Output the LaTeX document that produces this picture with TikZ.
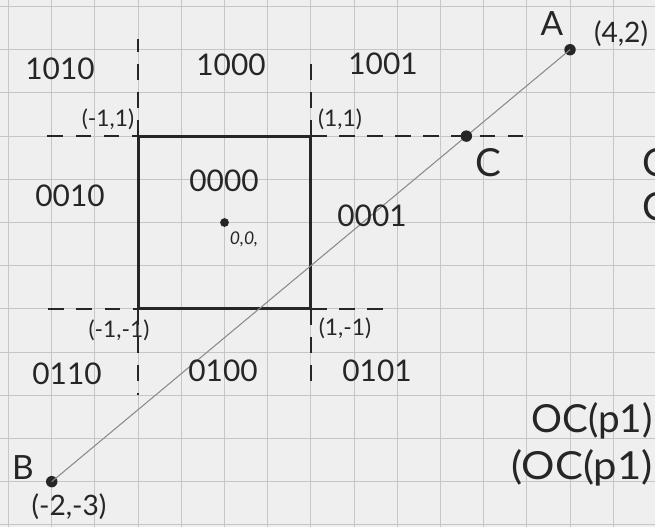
\documentclass[tikz,border=0pt]{standalone}
\usepackage{fontspec}
\setmainfont{Lato}
\definecolor{paper}{HTML}{EFEFEF}
\definecolor{gridc}{HTML}{C6C6C6}
\definecolor{ink}{HTML}{262626}
\definecolor{lineg}{HTML}{8A8A8A}
\begin{document}
\begin{tikzpicture}[x=0.02cm,y=-0.02cm,
  region/.style={text=ink,font=\fontsize{17}{17}\selectfont,inner sep=0pt},
  coordlbl/.style={text=ink,font=\fontsize{13}{13}\selectfont,inner sep=0pt},
  biglbl/.style={text=ink,font=\fontsize{19}{19}\selectfont,inner sep=0pt},
  cutline/.style={draw=ink,line width=1.1pt,dash pattern=on 9pt off 7pt},
  boxline/.style={draw=ink,line width=1.6pt},
  pointdot/.style={circle,fill=ink,inner sep=0pt,minimum size=6.5pt},
  segline/.style={draw=lineg,line width=0.6pt}]
\useasboundingbox (0,0) rectangle (655,527);
\clip (0,0) rectangle (655,527);
\fill[paper] (0,0) rectangle (655,527);
% grid paper
\foreach \k in {0,...,15} {\draw[gridc,line width=0.6pt] ({8.5+43.2*\k},0) -- ({8.5+43.2*\k},527);}
\foreach \k in {0,...,12} {\draw[gridc,line width=0.6pt] (0,{6.5+43.2*\k}) -- (655,{6.5+43.2*\k});}
\begin{scope}[shift={(224.5,222.5)},x=1.728cm,y=1.728cm]
  \coordinate (ll) at (-1,-1);
  \coordinate (ur) at (1,1);
  \coordinate (ul) at (-1,1);
  \coordinate (lr) at (1,-1);
  \coordinate (tlh) at (-2.05,1);
  \coordinate (trh) at (3.5,1);
  \coordinate (ltv) at (-1,2.13);
  \coordinate (rtv) at (1,1.88);
  \coordinate (blh) at (-2.04,-1);
  \coordinate (brh) at (1.97,-1);
  \coordinate (lbv) at (-1,-2.0);
  \coordinate (rbv) at (1,-1.9);
  \draw[cutline] (tlh) -- (ul);
  \draw[cutline] (ur) -- (trh);
  \draw[cutline] (ul) -- (ltv);
  \draw[cutline] (ur) -- (rtv);
  \draw[cutline] (blh) -- (ll);
  \draw[cutline] (lr) -- (brh);
  \draw[cutline] (ll) -- (lbv);
  \draw[cutline] (lr) -- (rbv);
  \draw[boxline] (ll) rectangle (ur);
  \node[pointdot] (A) at (4,2) {};
  \node[pointdot] (B) at (-2,-3) {};
  \node[pointdot,minimum size=5pt] (O) at (0,0) {};
  \draw[segline] (A.center) -- (B.center);
  \node[pointdot] (C) at (2.8,1) {};
\end{scope}
% region codes
\node[region] (r1010) at (60,69) {1010};
\node[region] (r1000) at (231,65) {1000};
\node[region] (r1001) at (383,64) {1001};
\node[region] (r0010) at (70,196) {0010};
\node[region] (r0000) at (224,181) {0000};
\node[region] (r0001) at (372,216) {0001};
\node[region] (r0110) at (67,374) {0110};
\node[region] (r0100) at (223,371) {0100};
\node[region] (r0101) at (377,371) {0101};
% corner labels
\node[coordlbl] (cul) at (108,119) {(-1,1)};
\node[coordlbl] (cur) at (340,119) {(1,1)};
\node[coordlbl] (cll) at (119,330) {(-1,-1)};
\node[coordlbl] (clr) at (345,328) {(1,-1)};
\node[coordlbl,font=\fontsize{10}{10}\selectfont\itshape] (co) at (244,239) {0,0,};
% point labels
\node[biglbl] (lA) at (552,24) {A};
\node[biglbl,font=\fontsize{16}{16}\selectfont] (lA2) at (621,34) {(4,2)};
\node[biglbl] (lB) at (23,468) {B};
\node[biglbl,font=\fontsize{16}{16}\selectfont] (lB2) at (69,507) {(-2,-3)};
\node[biglbl,font=\fontsize{22}{22}\selectfont] (lC) at (488,163) {C};
% text cut off at the right edge, as in the reference
\node[biglbl,font=\fontsize{22}{22}\selectfont,anchor=west] (e1) at (642,163) {O};
\node[biglbl,font=\fontsize{22}{22}\selectfont,anchor=west] (e2) at (642,207) {C};
\node[biglbl,font=\fontsize{22}{22}\selectfont,anchor=east] (f1) at (653,421) {OC(p1)};
\node[biglbl,font=\fontsize{22}{22}\selectfont,anchor=east,xscale=1.08] (f2) at (653,468) {(OC(p1)};
\end{tikzpicture}
\end{document}
